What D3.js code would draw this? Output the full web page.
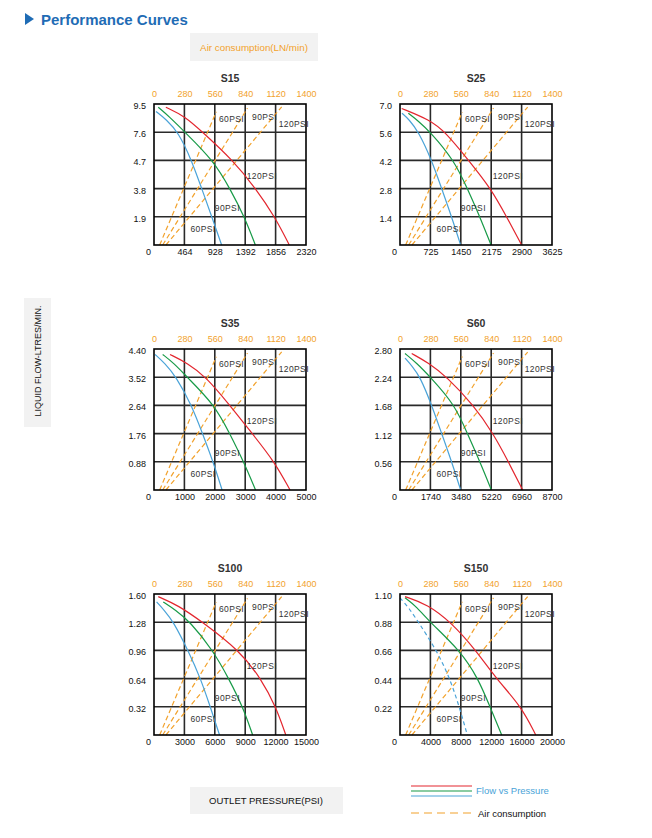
<!DOCTYPE html>
<html>
<head>
<meta charset="utf-8">
<script src="https://cdn.jsdelivr.net/npm/d3@7/dist/d3.min.js"></script>
<style>
  html, body { margin: 0; padding: 0; background: #fff; }
  svg { display: block; font-family: "Liberation Sans", Arial, sans-serif; }
</style>
</head>
<body>
<svg id="chart" width="652" height="838"></svg>
<script>
// ---------------- DATA ----------------
const models = ["S15", "S25", "S35", "S60", "S100", "S150"];
const flowMax = [9.5, 7.0, 4.40, 2.80, 1.60, 1.10];
const pressureMax = [2320, 3625, 5000, 8700, 15000, 20000];
const flowTickLabels = [
  ["1.9", "3.8", "4.7", "7.6", "9.5"],
  ["1.4", "2.8", "4.2", "5.6", "7.0"],
  ["0.88", "1.76", "2.64", "3.52", "4.40"],
  ["0.56", "1.12", "1.68", "2.24", "2.80"],
  ["0.32", "0.64", "0.96", "1.28", "1.60"],
  ["0.22", "0.44", "0.66", "0.88", "1.10"]
];
const pressureTickLabels = [
  ["0", "464", "928", "1392", "1856", "2320"],
  ["0", "725", "1450", "2175", "2900", "3625"],
  ["0", "1000", "2000", "3000", "4000", "5000"],
  ["0", "1740", "3480", "5220", "6960", "8700"],
  ["0", "3000", "6000", "9000", "12000", "15000"],
  ["0", "4000", "8000", "12000", "16000", "20000"]
];
const airTickLabels = ["0", "280", "560", "840", "1120", "1400"];
const airMax = 1400;

// Flow vs pressure curves: [outlet pressure, liquid flow]
const flow60 = [
  [[30, 9.0], [186, 8.46], [371, 7.6], [575, 5.7], [728, 3.8], [882, 1.9], [1032, 0]],
  [[47, 6.54], [217, 6.23], [439, 5.63], [754, 4.22], [993, 2.8], [1233, 1.39], [1446, 0]],
  [[35, 4.23], [350, 3.96], [725, 3.54], [1235, 2.65], [1595, 1.76], [1945, 0.88], [2240, 0]],
  [[287, 2.62], [696, 2.46], [1148, 2.25], [1810, 1.69], [2384, 1.12], [2958, 0.56], [3471, 0]],
  [[255, 1.51], [1050, 1.41], [1890, 1.29], [3360, 0.96], [4605, 0.64], [5550, 0.32], [6465, 0]],
  [[0, 1.07], [1200, 0.99], [2420, 0.88], [4820, 0.66], [6580, 0.44], [7800, 0.22], [8860, 0]]
];
const flow90 = [
  [[65, 9.28], [232, 8.65], [473, 7.6], [905, 5.7], [1160, 3.8], [1380, 1.9], [1547, 0]],
  [[199, 6.54], [435, 6.16], [714, 5.63], [1287, 4.22], [1606, 2.8], [1907, 1.39], [2171, 0]],
  [[285, 4.23], [650, 3.96], [1070, 3.54], [2000, 2.65], [2490, 1.76], [2950, 0.88], [3340, 0]],
  [[287, 2.71], [957, 2.52], [1714, 2.25], [3149, 1.69], [3854, 1.12], [4576, 0.56], [5229, 0]],
  [[915, 1.51], [2100, 1.42], [3525, 1.29], [5820, 0.96], [7380, 0.64], [8760, 0.32], [9735, 0]],
  [[660, 1.07], [2200, 1.0], [3940, 0.88], [7900, 0.66], [10300, 0.44], [11840, 0.22], [13380, 0]]
];
const flow120 = [
  [[181, 9.28], [473, 8.67], [742, 7.6], [1206, 5.7], [1554, 3.8], [1844, 1.9], [2065, 0]],
  [[40, 6.78], [714, 6.21], [1073, 5.63], [1631, 4.22], [2171, 2.8], [2545, 1.39], [2900, 0]],
  [[525, 4.23], [1100, 3.96], [1705, 3.54], [2490, 2.65], [3230, 1.76], [3965, 0.88], [4475, 0]],
  [[670, 2.71], [1653, 2.52], [2671, 2.25], [4193, 1.69], [5342, 1.12], [6203, 0.56], [7021, 0]],
  [[420, 1.57], [2400, 1.47], [4680, 1.29], [8430, 0.96], [10560, 0.64], [12030, 0.32], [13005, 0]],
  [[660, 1.08], [3600, 1.02], [6720, 0.88], [10000, 0.66], [12640, 0.44], [16000, 0.22], [17860, 0]]
];
// Air consumption lines: [air consumption (LN/min), liquid flow]
const air60 = [
  [[52, 0], [574, 8.98]], [[52, 0], [574, 6.6]], [[52, 0], [574, 4.16]],
  [[52, 0], [574, 2.65]], [[52, 0], [574, 1.51]], [[52, 0], [574, 1.04]]
];
const air90 = [
  [[80, 0], [861, 9.22]], [[80, 0], [861, 6.8]], [[80, 0], [861, 4.27]],
  [[80, 0], [861, 2.72]], [[80, 0], [861, 1.55]], [[80, 0], [861, 1.07]]
];
const air120 = [
  [[110, 0], [1176, 9.31]], [[110, 0], [1176, 6.85]], [[110, 0], [1176, 4.31]],
  [[110, 0], [1176, 2.74]], [[110, 0], [1176, 1.57]], [[110, 0], [1176, 1.08]]
];

// ---------------- LAYOUT / STYLE ----------------
const svg = d3.select("#chart");
const PW = 152, PH = 141;
const colX = [154, 400];
const rowY = [104, 349, 594];
const C = { red: "#e3262e", green: "#179a47", blue: "#4aa3d8", orange: "#f2a22c", blueTitle: "#1f6cb5" };

svg.append("rect").attr("width", 652).attr("height", 838).attr("fill", "#fff");

// Header
svg.append("path").attr("d", "M25,13 L34,19 L25,25 Z").attr("fill", C.blueTitle);
svg.append("text").attr("x", 41).attr("y", 25).attr("font-size", 15).attr("font-weight", "bold")
  .attr("fill", C.blueTitle).text("Performance Curves");

svg.append("rect").attr("x", 190).attr("y", 33).attr("width", 128).attr("height", 28).attr("fill", "#f2f2f2");
svg.append("text").attr("x", 254).attr("y", 50.5).attr("text-anchor", "middle").attr("font-size", 9.8)
  .attr("fill", C.orange).text("Air consumption(LN/min)");

// Y axis title
svg.append("rect").attr("x", 24).attr("y", 298).attr("width", 27).attr("height", 129).attr("fill", "#f2f2f2");
svg.append("text").attr("transform", "translate(40.5,361) rotate(-90)").attr("text-anchor", "middle")
  .attr("font-size", 9).attr("fill", "#111").text("LIQUID FLOW-LTRES/MIN.");

// X axis title
svg.append("rect").attr("x", 190).attr("y", 787).attr("width", 153).attr("height", 27).attr("fill", "#f2f2f2");
svg.append("text").attr("x", 266).attr("y", 804).attr("text-anchor", "middle").attr("font-size", 9.5)
  .attr("fill", "#111").text("OUTLET PRESSURE(PSI)");

// Legend
[[C.red, 786], [C.green, 791], [C.blue, 796]].forEach(([c, y]) => {
  svg.append("line").attr("x1", 411).attr("x2", 472).attr("y1", y).attr("y2", y)
    .attr("stroke", c).attr("stroke-width", 1.2);
});
svg.append("text").attr("x", 476).attr("y", 794).attr("font-size", 9.5).attr("fill", C.blue).text("Flow vs Pressure");
svg.append("line").attr("x1", 411).attr("x2", 472).attr("y1", 813).attr("y2", 813)
  .attr("stroke", C.orange).attr("stroke-width", 1.2).attr("stroke-dasharray", "8,5");
svg.append("text").attr("x", 478).attr("y", 817).attr("font-size", 9.5).attr("fill", "#111").text("Air consumption");

// ---------------- PANELS ----------------
models.forEach((m, i) => {
  const left = colX[i % 2], top = rowY[Math.floor(i / 2)];
  const g = svg.append("g").attr("transform", `translate(${left},${top})`);

  const x = d3.scaleLinear().domain([0, pressureMax[i]]).range([0, PW]);
  const xAir = d3.scaleLinear().domain([0, airMax]).range([0, PW]);
  const y = d3.scaleLinear().domain([0, flowMax[i]]).range([PH, 0]);

  const xTicks = d3.range(6).map(k => k * pressureMax[i] / 5);
  const yTicks = d3.range(1, 6).map(k => k * flowMax[i] / 5);
  const airTicks = d3.range(6).map(k => k * airMax / 5);

  // title
  g.append("text").attr("x", PW / 2).attr("y", -22).attr("text-anchor", "middle")
    .attr("font-size", 10.5).attr("font-weight", "bold").attr("fill", "#333").text(m);

  // grid
  g.append("g").selectAll("line.v").data(xTicks.slice(1, 5)).join("line")
    .attr("x1", d => x(d)).attr("x2", d => x(d)).attr("y1", 0).attr("y2", PH)
    .attr("stroke", "#2a2a2a").attr("stroke-width", 1.6);
  g.append("g").selectAll("line.h").data(yTicks.slice(0, 4)).join("line")
    .attr("x1", 0).attr("x2", PW).attr("y1", d => y(d)).attr("y2", d => y(d))
    .attr("stroke", "#2a2a2a").attr("stroke-width", 1.6);

  // air consumption dashed lines
  const airLine = d3.line().x(d => xAir(d[0])).y(d => y(d[1]));
  [air60[i], air90[i], air120[i]].forEach(pts => {
    g.append("path").attr("d", airLine(pts)).attr("fill", "none")
      .attr("stroke", C.orange).attr("stroke-width", 1.2).attr("stroke-dasharray", "5,3");
  });

  // flow curves
  const flowLine = d3.line().x(d => x(d[0])).y(d => y(d[1])).curve(d3.curveBasis);
  [[flow60[i], C.blue], [flow90[i], C.green], [flow120[i], C.red]].forEach(([pts, c], k) => {
    const p = g.append("path").attr("d", flowLine(pts)).attr("fill", "none")
      .attr("stroke", c).attr("stroke-width", 1.2);
    if (m === "S150" && k === 0) p.attr("stroke-dasharray", "4,3");
  });

  // frame
  g.append("rect").attr("width", PW).attr("height", PH).attr("fill", "none")
    .attr("stroke", "#000").attr("stroke-width", 1.6);

  // curve labels (placed in plot fractions)
  const lbl = [
    ["60PSI", 0.427, 0.893], ["90PSI", 0.645, 0.91], ["120PSI", 0.82, 0.858],
    ["120PSI", 0.61, 0.49], ["90PSI", 0.40, 0.26], ["60PSI", 0.24, 0.11]
  ];
  lbl.forEach(([t, fx, fy]) => {
    g.append("text").attr("x", fx * PW).attr("y", PH - fy * PH).attr("dy", "0.35em")
      .attr("font-size", 8.5).attr("letter-spacing", 0.4).attr("fill", "#333").text(t);
  });

  // top axis (air consumption)
  const topAx = g.append("g").call(
    d3.axisTop(xAir).tickValues(airTicks).tickSize(0).tickPadding(7)
      .tickFormat((d, k) => airTickLabels[k])
  );
  topAx.select(".domain").remove();
  topAx.selectAll("text").attr("fill", C.orange).attr("font-size", 9)
    .attr("font-family", "Liberation Sans, Arial, sans-serif");

  // bottom axis (outlet pressure)
  const botAx = g.append("g").attr("transform", `translate(0,${PH})`).call(
    d3.axisBottom(x).tickValues(xTicks).tickSize(0).tickPadding(4)
      .tickFormat((d, k) => pressureTickLabels[i][k])
  );
  botAx.select(".domain").remove();
  botAx.selectAll("text").attr("fill", "#111").attr("font-size", 9)
    .attr("font-family", "Liberation Sans, Arial, sans-serif");
  botAx.selectAll(".tick").filter((d, k) => k === 0).select("text").attr("dx", -6);

  // left axis (liquid flow)
  const leftAx = g.append("g").call(
    d3.axisLeft(y).tickValues(yTicks).tickSize(0).tickPadding(8)
      .tickFormat((d, k) => flowTickLabels[i][k])
  );
  leftAx.select(".domain").remove();
  leftAx.selectAll("text").attr("fill", "#111").attr("font-size", 9).attr("dy", "0.5em")
    .attr("font-family", "Liberation Sans, Arial, sans-serif");
});
</script>
</body>
</html>
